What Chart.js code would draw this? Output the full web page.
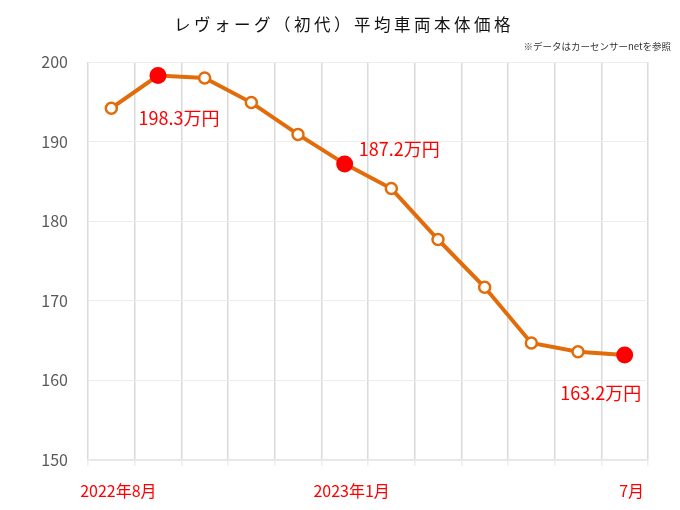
<!DOCTYPE html>
<html>
<head>
<meta charset="utf-8">
<script src="https://cdn.jsdelivr.net/npm/chart.js@4/dist/chart.umd.min.js"></script>
<style>
  html, body { margin: 0; padding: 0; background: #fff; }
  #wrap { width: 680px; height: 510px; }
</style>
</head>
<body>
<div id="wrap"><canvas id="priceChart"></canvas></div>
<script>
// data
var months = ['2022年8月', '9月', '10月', '11月', '12月', '2023年1月', '2月', '3月', '4月', '5月', '6月', '7月'];
var prices = [194.2, 198.3, 198.0, 194.9, 190.9, 187.2, 184.1, 177.7, 171.7, 164.7, 163.6, 163.2];
var shownTicks = [0, 5, 11];      // months that get a label on the x axis
var highlight = [1, 5, 11];       // points with a value label
var titleText = 'レヴォーグ（初代）平均車両本体価格';
var noteText = '※データはカーセンサーnetを参照';

var FONT = '"Noto Sans CJK JP", "Noto Sans", sans-serif';
var LINE = '#E36C0A';
var RED = '#FF0000';

// where each value label sits relative to its point
var labelPos = {
  1:  { dx: 21,  dy: 43,  align: 'center' },
  5:  { dx: 14,  dy: -15, align: 'left' },
  11: { dx: -24, dy: 38,  align: 'center' }
};

var headerText = {
  id: 'headerText',
  afterDraw: function(chart) {
    var ctx = chart.ctx;
    ctx.save();
    ctx.fillStyle = '#111';
    ctx.textBaseline = 'middle';
    ctx.textAlign = 'center';
    ctx.font = '16.5px ' + FONT;
    ctx.letterSpacing = '3.5px';
    ctx.fillText(titleText, 344, 25);
    ctx.letterSpacing = '0px';
    ctx.textAlign = 'right';
    ctx.font = '9.5px ' + FONT;
    ctx.fillStyle = '#333';
    ctx.fillText(noteText, 671, 46);
    ctx.restore();
  }
};

var valueLabels = {
  id: 'valueLabels',
  afterDatasetsDraw: function(chart) {
    var ctx = chart.ctx;
    var meta = chart.getDatasetMeta(0);
    ctx.save();
    ctx.font = '18px ' + FONT;
    ctx.fillStyle = RED;
    ctx.textBaseline = 'middle';
    highlight.forEach(function(i) {
      var pt = meta.data[i];
      var p = labelPos[i];
      ctx.textAlign = p.align;
      ctx.fillText(prices[i].toFixed(1) + '万円', pt.x + p.dx, pt.y + p.dy);
    });
    ctx.restore();
  }
};

var ctx = document.getElementById('priceChart').getContext('2d');
var chart = new Chart(ctx, {
  type: 'line',
  data: {
    labels: months,
    datasets: [{
      data: prices,
      borderColor: LINE,
      borderWidth: 4,
      tension: 0,
      pointRadius: function(c) { return highlight.includes(c.dataIndex) ? 8.5 : 5.5; },
      pointBorderWidth: function(c) { return highlight.includes(c.dataIndex) ? 0 : 2.5; },
      pointBackgroundColor: function(c) { return highlight.includes(c.dataIndex) ? RED : '#fff'; },
      pointBorderColor: function(c) { return highlight.includes(c.dataIndex) ? RED : LINE; }
    }]
  },
  options: {
    responsive: true,
    maintainAspectRatio: false,
    animation: false,
    layout: { padding: { top: 62, right: 32, left: 0, bottom: 0 } },
    plugins: {
      legend: { display: false },
      tooltip: { enabled: false }
    },
    scales: {
      x: {
        offset: true,
        grid: { offset: true, color: '#d9d9d9', lineWidth: 1.5, tickLength: 6, tickColor: '#eeeeee' },
        border: { color: '#e6e6e6', width: 1.5 },
        ticks: {
          autoSkip: false,
          maxRotation: 0,
          padding: 15,
          labelOffset: 7,
          color: RED,
          font: { family: FONT, size: 16 },
          callback: function(v, i) { return shownTicks.includes(i) ? months[i] : ''; }
        },
        afterFit: function(s) { s.height = 50; }
      },
      y: {
        min: 150,
        max: 200,
        grid: { color: '#ececec', lineWidth: 1, drawTicks: false },
        border: { color: '#ececec' },
        ticks: {
          stepSize: 10,
          padding: 20,
          color: '#595959',
          font: { family: FONT, size: 16 }
        },
        afterFit: function(s) { s.width = 88; }
      }
    }
  },
  plugins: [headerText, valueLabels]
});
</script>
</body>
</html>
